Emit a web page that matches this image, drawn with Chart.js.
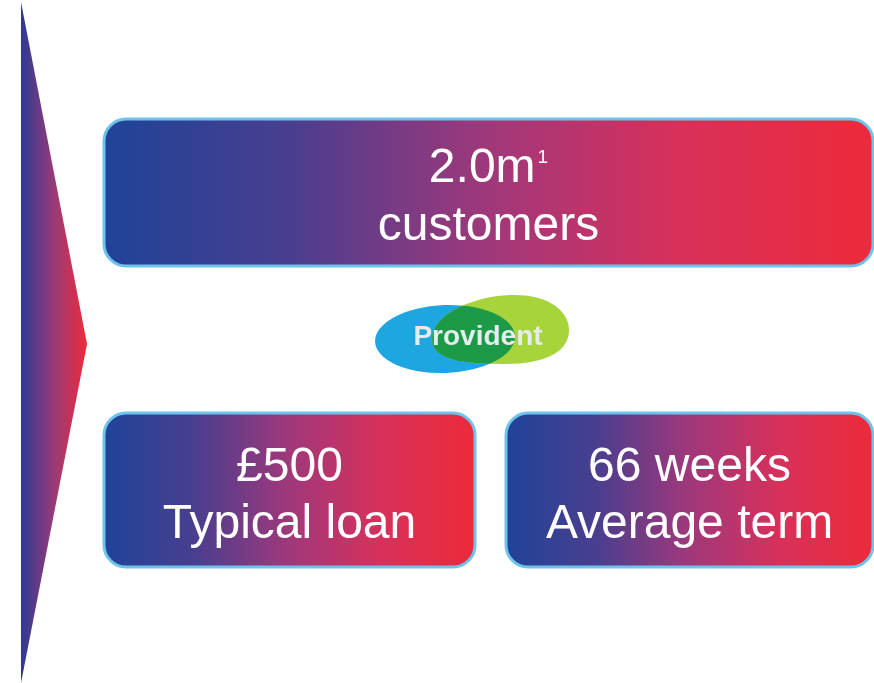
<!DOCTYPE html>
<html>
<head>
<meta charset="utf-8">
<script src="https://cdn.jsdelivr.net/npm/chart.js@4/dist/chart.umd.min.js"></script>
<style>
  html, body { margin: 0; padding: 0; background: #fff; }
  #wrap { width: 874px; height: 683px; position: relative; }
</style>
</head>
<body>
<div id="wrap"><canvas id="chart"></canvas></div>
<script>
// Figures shown in the three panels
const figures = ['2.0m', '£500', '66 weeks'];
const footnotes = ['1', '', ''];
const captions = ['customers', 'Typical loan', 'Average term'];
const brand = 'Provident';

// Panel boxes (pixels) and text baselines
const panels = [
    { x0: 104, y0: 119, x1: 873, y1: 266, b1: 182, b2: 240 },
    { x0: 104, y0: 413, x1: 475, y1: 567, b1: 481, b2: 538 },
    { x0: 506, y0: 413, x1: 873, y1: 567, b1: 481, b2: 538 }
];

const FONT = '"Liberation Sans", Arial, sans-serif';

function brandGradient(ctx, x0, x1) {
    const g = ctx.createLinearGradient(x0, 0, x1, 0);
    g.addColorStop(0, '#1f4399');
    g.addColorStop(0.25, '#4b3e8e');
    g.addColorStop(0.5, '#a0387a');
    g.addColorStop(0.75, '#d8305a');
    g.addColorStop(1, '#ed2a3a');
    return g;
}

function roundRect(ctx, x, y, w, h, r) {
    ctx.beginPath();
    ctx.moveTo(x + r, y);
    ctx.lineTo(x + w - r, y);
    ctx.arcTo(x + w, y, x + w, y + r, r);
    ctx.lineTo(x + w, y + h - r);
    ctx.arcTo(x + w, y + h, x + w - r, y + h, r);
    ctx.lineTo(x + r, y + h);
    ctx.arcTo(x, y + h, x, y + h - r, r);
    ctx.lineTo(x, y + r);
    ctx.arcTo(x, y, x + r, y, r);
    ctx.closePath();
}

// green leaf of the logo, egg shaped (narrow at lower left)
function greenLeaf(ctx) {
    ctx.beginPath();
    ctx.moveTo(433, 345);
    ctx.bezierCurveTo(425, 318, 470, 295, 515, 295);
    ctx.bezierCurveTo(550, 295, 569, 312, 569, 330);
    ctx.bezierCurveTo(569, 352, 545, 364, 505, 364);
    ctx.bezierCurveTo(465, 364, 438, 360, 433, 345);
    ctx.closePath();
}

const infographic = {
    id: 'infographic',
    afterDraw(chart) {
        const ctx = chart.ctx;
        ctx.save();

        // left arrow
        const ag = ctx.createLinearGradient(21, 0, 87, 0);
        ag.addColorStop(0, '#2c3a92');
        ag.addColorStop(0.5, '#9a3a78');
        ag.addColorStop(1, '#ef2a3a');
        ctx.fillStyle = ag;
        ctx.beginPath();
        ctx.moveTo(21, 2);
        ctx.lineTo(87, 344);
        ctx.lineTo(21, 683);
        ctx.closePath();
        ctx.fill();

        // panels
        panels.forEach((p, i) => {
            roundRect(ctx, p.x0, p.y0, p.x1 - p.x0, p.y1 - p.y0, 22);
            ctx.fillStyle = brandGradient(ctx, p.x0, p.x1);
            ctx.fill();
            ctx.lineWidth = 3;
            ctx.strokeStyle = '#6ec3ec';
            ctx.stroke();

            const cx = (p.x0 + p.x1) / 2;
            ctx.fillStyle = '#ffffff';
            ctx.textBaseline = 'alphabetic';

            ctx.font = '48px ' + FONT;
            const w1 = ctx.measureText(figures[i]).width;
            ctx.font = '19px ' + FONT;
            const ws = footnotes[i] ? ctx.measureText(footnotes[i]).width + 2 : 0;
            const sx = cx - (w1 + ws) / 2;
            ctx.font = '48px ' + FONT;
            ctx.textAlign = 'left';
            ctx.fillText(figures[i], sx, p.b1);
            if (footnotes[i]) {
                ctx.font = '19px ' + FONT;
                ctx.fillText(footnotes[i], sx + w1 + 2, p.b1 - 19);
            }
            ctx.font = '48px ' + FONT;
            ctx.textAlign = 'center';
            ctx.fillText(captions[i], cx, p.b2);
        });

        // logo
        ctx.fillStyle = '#1ea6e1';
        ctx.beginPath();
        ctx.ellipse(445, 339, 70, 34, -0.04, 0, Math.PI * 2);
        ctx.fill();
        ctx.fillStyle = '#a7d33b';
        greenLeaf(ctx);
        ctx.fill();
        ctx.save();
        ctx.beginPath();
        ctx.ellipse(445, 339, 70, 34, -0.04, 0, Math.PI * 2);
        ctx.clip();
        ctx.fillStyle = '#1c9a48';
        greenLeaf(ctx);
        ctx.fill();
        ctx.restore();
        ctx.fillStyle = '#e4ecee';
        ctx.font = 'bold 28px ' + FONT;
        ctx.textAlign = 'center';
        ctx.fillText(brand, 478, 345);

        ctx.restore();
    }
};

const chart = new Chart(document.getElementById('chart'), {
    type: 'bar',
    data: { labels: captions, datasets: [{ data: [], label: brand }] },
    options: {
        responsive: true,
        maintainAspectRatio: false,
        animation: false,
        events: [],
        layout: { padding: 0 },
        plugins: { legend: { display: false }, tooltip: { enabled: false } },
        scales: { x: { display: false }, y: { display: false } }
    },
    plugins: [infographic]
});
</script>
</body>
</html>
